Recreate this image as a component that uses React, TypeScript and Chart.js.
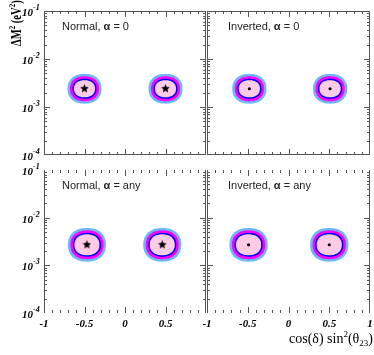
import React, { useEffect, useRef } from "react";
import { Chart, registerables } from "chart.js";
Chart.register(...registerables);

const W = 374;
const H = 355;

// ---------------- data ----------------
const panelHierarchy = ["Normal", "Inverted", "Normal", "Inverted"];
const panelAlpha = ["0", "0", "any", "any"];
// best-fit points (two degenerate solutions per panel)
const bestFitCosSin = [
  [-0.5, 0.5],
  [-0.48, 0.51],
  [-0.47, 0.46],
  [-0.49, 0.5],
];
const bestFitDM2 = [
  [2.4e-3, 2.4e-3],
  [2.4e-3, 2.4e-3],
  [2.7e-3, 2.7e-3],
  [2.7e-3, 2.7e-3],
];
// contour levels, outer -> inner
const levelColors = ["#6cb8f6", "#ff00ff", "#0000ee", "#ffcce6"];
const halfWidthAlpha0 = [0.21, 0.179, 0.148, 0.13];
const halfDecadeAlpha0 = [0.31, 0.26, 0.208, 0.177];
const halfWidthAlphaAny = [0.235, 0.204, 0.173, 0.154];
const halfDecadeAlphaAny = [0.354, 0.302, 0.25, 0.219];
// axes
const xMin = -1;
const xMax = 1;
const yMin = 1e-4;
const yMax = 1e-1;
const xTickValues = [-1, -0.5, 0, 0.5, 1];
const xTickLabels = ["-1", "-0.5", "0", "0.5", "1"];
const yTickValues = [1e-4, 1e-3, 1e-2, 1e-1];
const yTickExponents = ["-4", "-3", "-2", "-1"];

// ---------------- layout ----------------
const panelRects = [
  [44, 11, 206, 155],
  [207, 11, 371, 155],
  [44, 170, 206, 313],
  [207, 170, 371, 313],
];

function makeStar(size: number) {
  const c = document.createElement("canvas");
  c.width = size;
  c.height = size;
  const g = c.getContext("2d")!;
  g.fillStyle = "#000";
  g.beginPath();
  const cx = size / 2;
  const cy = size / 2;
  const R = size / 2;
  const r = R * 0.45;
  for (let i = 0; i < 10; i++) {
    const a = -Math.PI / 2 + (i * Math.PI) / 5;
    const rad = i % 2 === 0 ? R : r;
    const px = cx + rad * Math.cos(a);
    const py = cy + rad * Math.sin(a);
    if (i === 0) g.moveTo(px, py);
    else g.lineTo(px, py);
  }
  g.closePath();
  g.fill();
  return c;
}

function superEllipse(ctx: CanvasRenderingContext2D, cx: number, cy: number, rx: number, ry: number, n: number) {
  ctx.beginPath();
  const steps = 72;
  for (let s = 0; s <= steps; s++) {
    const t = (s / steps) * Math.PI * 2;
    const c = Math.cos(t);
    const sn = Math.sin(t);
    const px = cx + rx * Math.sign(c) * Math.pow(Math.abs(c), 2 / n);
    const py = cy + ry * Math.sign(sn) * Math.pow(Math.abs(sn), 2 / n);
    if (s === 0) ctx.moveTo(px, py);
    else ctx.lineTo(px, py);
  }
  ctx.closePath();
}

function panelPlugin(i: number) {
  const row = i < 2 ? 0 : 1;
  const col = i % 2;
  return {
    id: "panel" + i,
    beforeDatasetsDraw(chart: any) {
      const ctx: CanvasRenderingContext2D = chart.ctx;
      const xs = chart.scales.x;
      const ys = chart.scales.y;
      const hw = row === 0 ? halfWidthAlpha0 : halfWidthAlphaAny;
      const hd = row === 0 ? halfDecadeAlpha0 : halfDecadeAlphaAny;
      ctx.save();
      for (let k = 0; k < bestFitCosSin[i].length; k++) {
        const xc = bestFitCosSin[i][k];
        const yc = bestFitDM2[i][k];
        const cx = xs.getPixelForValue(xc);
        const cy = ys.getPixelForValue(yc);
        for (let l = 0; l < levelColors.length; l++) {
          const rx = xs.getPixelForValue(xc + hw[l]) - cx;
          const ry = cy - ys.getPixelForValue(yc * Math.pow(10, hd[l]));
          ctx.fillStyle = levelColors[l];
          superEllipse(ctx, cx, cy, rx, ry, 2.25);
          ctx.fill();
        }
      }
      ctx.restore();
    },
    afterDraw(chart: any) {
      const ctx: CanvasRenderingContext2D = chart.ctx;
      const xs = chart.scales.x;
      const ys = chart.scales.y;
      const { left, right, top, bottom } = chart.chartArea;
      ctx.save();
      ctx.strokeStyle = "#555";
      ctx.lineWidth = 1;
      // frame
      ctx.beginPath();
      ctx.moveTo(left + 0.5, top);
      ctx.lineTo(left + 0.5, bottom);
      ctx.moveTo(right - 0.5, top);
      ctx.lineTo(right - 0.5, bottom);
      if (row === 0) {
        ctx.moveTo(left, top + 0.5);
        ctx.lineTo(right, top + 0.5);
        ctx.moveTo(left, bottom - 0.5);
        ctx.lineTo(right, bottom - 0.5);
      }
      // x ticks (top and bottom, inward)
      for (let k = -10; k <= 10; k++) {
        const v = k / 10;
        const px = Math.round(xs.getPixelForValue(v)) + 0.5;
        const len = k % 5 === 0 ? 6 : 3;
        if (k === -10 || k === 10) continue;
        ctx.moveTo(px, top);
        ctx.lineTo(px, top + len);
        ctx.moveTo(px, bottom);
        ctx.lineTo(px, bottom - len);
      }
      // y ticks (left and right, inward)
      for (let d = -4; d <= -2; d++) {
        for (let m = 1; m <= 9; m++) {
          const v = m * Math.pow(10, d);
          const py = Math.round(ys.getPixelForValue(v)) + 0.5;
          const len = m === 1 ? 6 : 3;
          if (m === 1 && d === -4) continue;
          ctx.moveTo(left, py);
          ctx.lineTo(left + len, py);
          ctx.moveTo(right, py);
          ctx.lineTo(right - len, py);
        }
      }
      ctx.stroke();

      // tick labels
      ctx.fillStyle = "#000";
      if (col === 0) {
        for (let t = 0; t < yTickValues.length; t++) {
          const py = ys.getPixelForValue(yTickValues[t]);
          ctx.font = "bold italic 11px 'Liberation Serif', serif";
          ctx.textAlign = "right";
          ctx.textBaseline = "alphabetic";
          ctx.fillText("10", left - 11, py + 5);
          ctx.font = "bold italic 8px 'Liberation Serif', serif";
          ctx.textAlign = "left";
          ctx.fillText(yTickExponents[t], left - 11, py - 1);
        }
      }
      if (row === 1) {
        ctx.font = "bold italic 11px 'Liberation Serif', serif";
        ctx.textAlign = "center";
        ctx.textBaseline = "alphabetic";
        for (let t = 0; t < xTickValues.length; t++) {
          if (col === 0 && t === xTickValues.length - 1) continue;
          const px = xs.getPixelForValue(xTickValues[t]);
          ctx.fillText(xTickLabels[t], px, bottom + 14);
        }
      }

      // panel title
      ctx.fillStyle = "#222";
      ctx.textAlign = "left";
      ctx.textBaseline = "alphabetic";
      let tx = left + (col === 0 ? 18 : 21);
      const ty = top + 19;
      ctx.font = "11px 'Liberation Sans', Arial, sans-serif";
      const p1 = panelHierarchy[i] + ", ";
      ctx.fillText(p1, tx, ty);
      tx += ctx.measureText(p1).width;
      ctx.font = "bold 11px 'Liberation Sans', Arial, sans-serif";
      ctx.fillText("α", tx, ty);
      tx += ctx.measureText("α").width;
      ctx.font = "11px 'Liberation Sans', Arial, sans-serif";
      ctx.fillText(" = " + panelAlpha[i], tx, ty);
      ctx.restore();
    },
  };
}

function Panel({ index }: { index: number }) {
  const ref = useRef<HTMLCanvasElement>(null);
  useEffect(() => {
    const canvas = ref.current!;
    const [l, t, r, b] = panelRects[index];
    const normal = panelHierarchy[index] === "Normal";
    const star = makeStar(9);
    const chart = new Chart(canvas, {
      type: "scatter",
      data: {
        datasets: [
          {
            data: bestFitCosSin[index].map((x, k) => ({ x, y: bestFitDM2[index][k] })),
            pointStyle: normal ? (star as any) : "circle",
            pointRadius: normal ? 4 : 1.6,
            backgroundColor: "#000",
            borderColor: "#000",
            borderWidth: 0,
          },
        ],
      },
      options: {
        responsive: false,
        animation: false,
        devicePixelRatio: 1,
        layout: { padding: { left: l, top: t, right: W - r, bottom: H - b } },
        plugins: { legend: { display: false }, title: { display: false }, tooltip: { enabled: false } },
        events: [],
        scales: {
          x: { type: "linear", min: xMin, max: xMax, display: false },
          y: { type: "logarithmic", min: yMin, max: yMax, display: false },
        },
      },
      plugins: [panelPlugin(index)],
    });
    return () => chart.destroy();
  }, [index]);
  return (
    <canvas
      ref={ref}
      width={W}
      height={H}
      style={{ position: "absolute", left: 0, top: 0, width: W, height: H }}
    />
  );
}

export default function App() {
  return (
    <div style={{ position: "absolute", left: 0, top: 0, width: W, height: H, background: "#fff", overflow: "hidden" }}>
      {[0, 1, 2, 3].map((i) => (
        <Panel key={i} index={i} />
      ))}
      <div
        style={{
          position: "absolute",
          left: 3,
          top: 46,
          transform: "rotate(-90deg) scaleX(0.76)",
          transformOrigin: "left top",
          whiteSpace: "nowrap",
          fontFamily: "'Liberation Serif', serif",
          fontWeight: "bold",
          fontSize: 14,
          lineHeight: "18px",
          color: "#000",
        }}
      >
        ΔM<span style={{ fontSize: 9, verticalAlign: 6 }}>2</span> (eV<span style={{ fontSize: 9, verticalAlign: 6 }}>2</span>)
      </div>
      <div
        style={{
          position: "absolute",
          right: 1,
          top: 326,
          whiteSpace: "nowrap",
          fontFamily: "'Liberation Serif', serif",
          fontSize: 14,
          lineHeight: "16px",
          color: "#000",
        }}
      >
        cos(δ) sin<span style={{ fontSize: 9, verticalAlign: 6 }}>2</span>(θ<span style={{ fontSize: 9, verticalAlign: -3 }}>23</span>)
      </div>
    </div>
  );
}
